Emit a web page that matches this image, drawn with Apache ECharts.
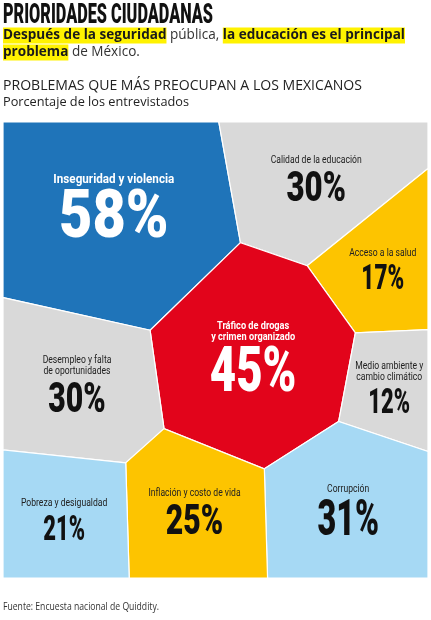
<!DOCTYPE html>
<html><head><meta charset="utf-8">
<script src="https://cdn.jsdelivr.net/npm/echarts/dist/echarts.min.js"></script>
<style>html,body{margin:0;padding:0;background:#fff}#c{width:431px;height:620px}</style>
</head><body><div id="c"></div>
<script>
// ---------- DATA ----------
const categories = [
  'Inseguridad y violencia',
  'Calidad de la educación',
  'Acceso a la salud',
  'Tráfico de drogas\ny crimen organizado',
  'Medio ambiente y\ncambio climático',
  'Desempleo y falta\nde oportunidades',
  'Corrupción',
  'Inflación y costo de vida',
  'Pobreza y desigualdad'
];
const values = [58, 30, 17, 45, 12, 30, 31, 25, 21];

// ---------- LAYOUT / STYLE (not data) ----------
const PLOT_W = 425, PLOT_H = 456;               // axis extents (plot units = px)
const seeds = [                                  // Voronoi-treemap seed points
  [110.7, 93.9], [312.2, 57.7], [381.0, 143.2], [249.9, 237.4], [386.2, 263.1],
  [73.3, 262.4], [344.8, 386.4], [188.3, 391.0], [59.3, 394.9]
];
const cellColors = ['#1f74b9', '#d9d9d9', '#fdc400', '#e2041b', '#d9d9d9',
                    '#d9d9d9', '#a6d9f4', '#fdc400', '#a6d9f4'];
const numberBox = [[105, 48], [57, 30], [41, 25], [83, 45], [40, 25],
                   [55, 30], [59, 36], [55, 30], [40, 25]];   // ink width, cap height
const labelKind = ['big', 'dark', 'dark', 'bold', 'dark', 'dark', 'dark', 'dark', 'dark'];
const blockShift = [-8, 1, 4, 0, 2, 0, 3, 0, 3];

// ---------- helpers ----------
const mctx = document.createElement('canvas').getContext('2d');
function tw(text, font) { mctx.font = font; return mctx.measureText(text).width; }

function clip(poly, a, b, c) {
  const out = [];
  for (let i = 0; i < poly.length; i++) {
    const P = poly[i], Q = poly[(i + 1) % poly.length];
    const fp = a * P[0] + b * P[1] - c, fq = a * Q[0] + b * Q[1] - c;
    if (fp <= 0) out.push(P);
    if ((fp < 0 && fq > 0) || (fp > 0 && fq < 0)) {
      const t = fp / (fp - fq);
      out.push([P[0] + t * (Q[0] - P[0]), P[1] + t * (Q[1] - P[1])]);
    }
  }
  return out;
}
function powerCells(s, w) {
  return s.map((p, i) => {
    let poly = [[0, 0], [PLOT_W, 0], [PLOT_W, PLOT_H], [0, PLOT_H]];
    s.forEach((q, j) => {
      if (i === j || !poly.length) return;
      const a = 2 * (q[0] - p[0]), b = 2 * (q[1] - p[1]);
      const c = q[0] * q[0] + q[1] * q[1] - p[0] * p[0] - p[1] * p[1] - w[j] + w[i];
      poly = clip(poly, a, b, c);
    });
    return poly;
  });
}
function polyArea(P) {
  let s = 0;
  for (let i = 0; i < P.length; i++) { const a = P[i], b = P[(i + 1) % P.length]; s += a[0] * b[1] - b[0] * a[1]; }
  return Math.abs(s) / 2;
}
function polyCentroid(P) {
  let s = 0, cx = 0, cy = 0;
  for (let i = 0; i < P.length; i++) {
    const a = P[i], b = P[(i + 1) % P.length], c = a[0] * b[1] - b[0] * a[1];
    s += c; cx += (a[0] + b[0]) * c; cy += (a[1] + b[1]) * c;
  }
  return [cx / (3 * s), cy / (3 * s)];
}

// area-proportional power diagram (weights solved so areas match values)
const total = values.reduce((a, b) => a + b, 0);
const targets = values.map(v => v / total * PLOT_W * PLOT_H);
const weights = values.map(() => 0);
let cells = powerCells(seeds, weights);
for (let it = 0; it < 8000; it++) {
  const areas = cells.map(polyArea);
  let maxErr = 0;
  for (let i = 0; i < values.length; i++) {
    const e = targets[i] - areas[i];
    weights[i] += 0.2 * e;
    maxErr = Math.max(maxErr, Math.abs(e));
  }
  cells = powerCells(seeds, weights);
  if (maxErr < 0.2) break;
}

// label styles
const LBL = {
  big:  { size: 12, weight: 'bold', fill: '#ffffff', family: 'Roboto', lh: 13 },
  bold: { size: 11, weight: 'bold', fill: '#ffffff', family: 'Roboto', lh: 11.3 },
  dark: { size: 10, weight: 'normal', fill: '#222222', family: 'Roboto', lh: 11.3 }
};
const lblScale = {
  big: 121 / tw('Inseguridad y violencia', 'bold 12px Roboto'),
  bold: 84 / tw('y crimen organizado', 'bold 11px Roboto'),
  dark: 91 / tw('Calidad de la educación', 'normal 10px Roboto')
};

function renderCell(params, api) {
  const i = params.dataIndex;
  const poly = cells[i];
  if (!poly.length) return;
  const pts = poly.map(p => api.coord(p));
  const children = [{
    type: 'polygon', shape: { points: pts },
    style: { fill: cellColors[i], stroke: '#ffffff', lineWidth: 1.2 }
  }];
  const c = api.coord(polyCentroid(poly));
  const st = LBL[labelKind[i]];
  const lines = categories[i].split('\n');
  const cap = numberBox[i][1];
  const gap = 8;
  const totalH = lines.length * st.lh + gap + cap;
  const top = c[1] - totalH / 2 + blockShift[i];
  lines.forEach((ln, k) => {
    children.push({
      type: 'text', x: c[0], y: top + st.lh * (k + 0.5), scaleX: lblScale[labelKind[i]],
      style: { text: ln, fill: st.fill, fontSize: st.size, fontWeight: st.weight, fontFamily: st.family,
               align: 'center', verticalAlign: 'middle' }
    });
  });
  const fs = cap / 0.711;
  const numText = values[i] + '%';
  const adv = tw(numText, '900 ' + fs + 'px Roboto');
  const sx = numberBox[i][0] / (adv - 0.08 * fs);
  children.push({
    type: 'text', x: c[0], y: top + lines.length * st.lh + gap + cap / 2 + fs * 0.03, scaleX: sx,
    style: { text: numText, fill: (st.fill === '#ffffff' ? '#ffffff' : '#111111'), fontSize: fs,
             fontWeight: 900, fontFamily: 'Roboto', align: 'center', verticalAlign: 'middle' }
  });
  return { type: 'group', children };
}

// header texts
const titleText = 'PRIORIDADES CIUDADANAS';
const subB1 = 'Después de la seguridad', subN1 = ' pública, ', subB2 = 'la educación es el principal';
const subB3 = 'problema', subN2 = ' de México.';
const heading = 'PROBLEMAS QUE MÁS PREOCUPAN A LOS MEXICANOS';
const subheading = 'Porcentaje de los entrevistados';
const source = 'Fuente: Encuesta nacional de Quiddity.';

const titleScale = 210 / tw(titleText, '900 27px Roboto');
const subW = tw(subB1, 'bold 14px "Open Sans"') + tw(subN1, 'normal 14px "Open Sans"') + tw(subB2, 'bold 14px "Open Sans"');
const subScale = 402 / subW;
const headScale = 359 / tw(heading, 'normal 15px "Open Sans"');
const subHeadScale = 186 / tw(subheading, 'normal 13px "Open Sans"');
const srcScale = 156 / tw(source, 'normal 11px "Open Sans"');

const chart = echarts.init(document.getElementById('c'), null, { renderer: 'canvas' });
chart.setOption({
  animation: false,
  backgroundColor: '#ffffff',
  grid: { left: 3, top: 122, width: PLOT_W, height: PLOT_H },
  xAxis: { type: 'value', min: 0, max: PLOT_W, show: false },
  yAxis: { type: 'value', min: 0, max: PLOT_H, inverse: true, show: false },
  graphic: [
    { type: 'text', x: 3, y: 16.5, scaleX: titleScale,
      style: { text: titleText, fontSize: 27, fontWeight: 900, fontFamily: 'Roboto', fill: '#111',
               align: 'left', verticalAlign: 'middle' } },
    { type: 'text', x: 3, y: 27, scaleX: subScale,
      style: {
        text: '{b|' + subB1 + '}{n|' + subN1 + '}{b|' + subB2 + '}\n{b|' + subB3 + '}{n|' + subN2 + '}',
        align: 'left', verticalAlign: 'top',
        rich: {
          b: { fontSize: 14, fontWeight: 'bold', fontFamily: 'Open Sans', fill: '#1a1a1a',
               backgroundColor: '#fff200', lineHeight: 17, height: 16 },
          n: { fontSize: 14, fontWeight: 'normal', fontFamily: 'Open Sans', fill: '#333',
               lineHeight: 17, height: 16 }
        }
      } },
    { type: 'text', x: 3, y: 85.5, scaleX: headScale,
      style: { text: heading, fontSize: 15, fontFamily: 'Open Sans', fill: '#222',
               align: 'left', verticalAlign: 'middle' } },
    { type: 'text', x: 3, y: 102, scaleX: subHeadScale,
      style: { text: subheading, fontSize: 13, fontFamily: 'Open Sans', fill: '#222',
               align: 'left', verticalAlign: 'middle' } },
    { type: 'text', x: 3, y: 607, scaleX: srcScale,
      style: { text: source, fontSize: 11, fontFamily: 'Open Sans', fill: '#333',
               align: 'left', verticalAlign: 'middle' } }
  ],
  series: [{
    type: 'custom',
    coordinateSystem: 'cartesian2d',
    data: values.map((v, i) => [i, v]),
    renderItem: renderCell,
    silent: true
  }]
});
</script>
</body></html>
